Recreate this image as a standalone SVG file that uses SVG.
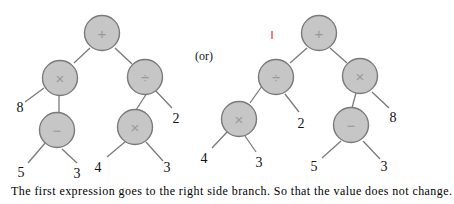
<svg xmlns="http://www.w3.org/2000/svg" width="454" height="204" viewBox="0 0 454 204">
<style>
.n circle{fill:#c6c6c6;stroke:#7a7a7a;stroke-width:1.4}
.op{font-family:"Liberation Sans",Arial,sans-serif;font-size:15px;fill:#999;text-anchor:middle;dominant-baseline:central}
.lbl{font-family:"Liberation Serif","Times New Roman",serif;font-size:14px;fill:#111;text-anchor:middle}
#edges line{stroke:#7a7a7a;stroke-width:1.3}
</style>
<rect width="454" height="204" fill="#fff"/>
<g id="edges">
<line x1="90" y1="48" x2="74" y2="63"/>
<line x1="115" y1="48" x2="132" y2="64"/>
<line x1="44" y1="88" x2="25" y2="102"/>
<line x1="59" y1="95" x2="59" y2="113"/>
<line x1="155" y1="90" x2="172" y2="108"/>
<line x1="147" y1="93" x2="136" y2="110"/>
<line x1="46" y1="142" x2="28" y2="163"/>
<line x1="62" y1="149" x2="77" y2="163"/>
<line x1="126" y1="141" x2="107" y2="157"/>
<line x1="146" y1="142" x2="163" y2="161"/>
<line x1="307" y1="48" x2="290" y2="63"/>
<line x1="330" y1="48" x2="347" y2="63"/>
<line x1="262" y1="86" x2="250" y2="103"/>
<line x1="285" y1="94" x2="299" y2="112"/>
<line x1="372" y1="92" x2="389" y2="108"/>
<line x1="356" y1="93" x2="352" y2="108"/>
<line x1="229" y1="130" x2="212" y2="148"/>
<line x1="245" y1="136" x2="256" y2="152"/>
<line x1="341" y1="141" x2="322" y2="158"/>
<line x1="363" y1="141" x2="380" y2="159"/>
</g>
<g id="L_root" class="n"><circle cx="102" cy="33" r="17.5"/><text class="op" x="102" y="33">+</text></g>
<g id="L_mul" class="n"><circle cx="60" cy="78" r="17.5"/><text class="op" x="60" y="78">×</text></g>
<g id="L_div" class="n"><circle cx="145" cy="77" r="17.5"/><text class="op" x="145" y="77">÷</text></g>
<g id="L_sub" class="n"><circle cx="57" cy="130" r="17.5"/><text class="op" x="57" y="130">−</text></g>
<g id="L_mul2" class="n"><circle cx="135" cy="127" r="17.5"/><text class="op" x="135" y="127">×</text></g>
<g id="R_root" class="n"><circle cx="319" cy="33" r="17.5"/><text class="op" x="319" y="33">+</text></g>
<g id="R_div" class="n"><circle cx="276" cy="77" r="17.5"/><text class="op" x="276" y="77">÷</text></g>
<g id="R_mul" class="n"><circle cx="360" cy="76" r="17.5"/><text class="op" x="360" y="76">×</text></g>
<g id="R_mul2" class="n"><circle cx="239" cy="119" r="17.5"/><text class="op" x="239" y="119">×</text></g>
<g id="R_sub" class="n"><circle cx="351" cy="125" r="17.5"/><text class="op" x="351" y="125">−</text></g>
<g id="labels">
<text class="lbl" x="20" y="112">8</text>
<text class="lbl" x="176" y="123">2</text>
<text class="lbl" x="21" y="177">5</text>
<text class="lbl" x="77" y="178">3</text>
<text class="lbl" x="98" y="172">4</text>
<text class="lbl" x="167" y="172">3</text>
<text class="lbl" x="301" y="128">2</text>
<text class="lbl" x="393" y="122">8</text>
<text class="lbl" x="204" y="163">4</text>
<text class="lbl" x="259" y="167">3</text>
<text class="lbl" x="314" y="171">5</text>
<text class="lbl" x="384" y="171">3</text>
<text class="lbl" x="204" y="60" style="font-size:12px">(or)</text>
</g>
<line x1="272" y1="31" x2="272" y2="39" stroke="#e03030" stroke-width="1.2"/>
<text x="11" y="195" style="font-family:'Liberation Serif','Times New Roman',serif;font-size:12px;fill:#000" textLength="441">The first expression goes to the right side branch. So that the value does not change.</text>
</svg>
